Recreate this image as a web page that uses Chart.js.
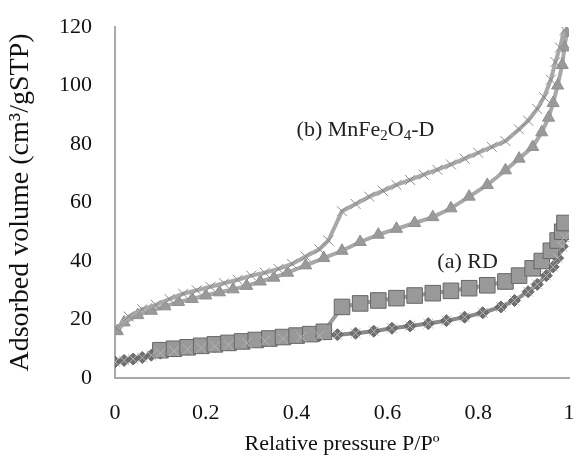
<!DOCTYPE html>
<html>
<head>
<meta charset="utf-8">
<script src="https://cdn.jsdelivr.net/npm/chart.js@4"></script>
<style>
  html, body { margin: 0; padding: 0; background: #fff; }
  #wrap { width: 581px; height: 461px; }
</style>
</head>
<body>
<div id="wrap"><canvas id="iso"></canvas></div>
<script>
// MnFe2O4-D, desorption branch (x markers)
var mnDesX = [0.005, 0.03, 0.06, 0.09, 0.12, 0.15, 0.18, 0.21, 0.24, 0.27, 0.30, 0.33, 0.36, 0.39, 0.42, 0.45, 0.47, 0.50, 0.53, 0.56, 0.59, 0.62, 0.65, 0.68, 0.71, 0.74, 0.77, 0.80, 0.83, 0.86, 0.89, 0.91, 0.93, 0.945, 0.96, 0.97, 0.98, 0.99];
var mnDesY = [17, 21, 23.5, 25, 27, 28.8, 30, 31.2, 32.4, 33.6, 35, 36, 37.3, 39, 41.5, 44, 47, 57, 59.5, 62, 64, 66, 67.7, 69.5, 71.2, 73, 75, 77, 79, 81, 85, 88, 92, 96, 102, 108, 113, 119];
// MnFe2O4-D, adsorption branch (triangles)
var mnAdsX = [0.005, 0.02, 0.05, 0.08, 0.11, 0.14, 0.17, 0.20, 0.23, 0.26, 0.29, 0.32, 0.35, 0.38, 0.42, 0.46, 0.50, 0.54, 0.58, 0.62, 0.66, 0.70, 0.74, 0.78, 0.82, 0.86, 0.89, 0.92, 0.94, 0.955, 0.965, 0.975, 0.985, 0.99, 0.995];
var mnAdsY = [16, 19, 21.5, 23, 24.5, 26, 27, 28.2, 29.3, 30.3, 31.5, 33, 34.3, 36, 38.5, 41, 43.5, 46.5, 49, 51, 53, 55, 58, 62, 66, 71, 75, 79, 84, 89, 94, 100, 107, 113, 118];
// RD, desorption branch (squares)
var rdDesX = [0.10, 0.13, 0.16, 0.19, 0.22, 0.25, 0.28, 0.31, 0.34, 0.37, 0.40, 0.43, 0.46, 0.50, 0.54, 0.58, 0.62, 0.66, 0.70, 0.74, 0.78, 0.82, 0.86, 0.89, 0.92, 0.94, 0.96, 0.975, 0.985, 0.99];
var rdDesY = [9.5, 10, 10.5, 11, 11.5, 12, 12.5, 13, 13.5, 14, 14.5, 15, 15.8, 24.3, 25.5, 26.5, 27.3, 28.2, 29, 29.8, 30.7, 31.7, 33, 35, 37.5, 40, 43.5, 47, 50, 53];
// RD, adsorption branch (diamonds)
var rdAdsX = [0.0, 0.02, 0.04, 0.06, 0.08, 0.10, 0.13, 0.16, 0.19, 0.22, 0.25, 0.29, 0.33, 0.37, 0.41, 0.45, 0.49, 0.53, 0.57, 0.61, 0.65, 0.69, 0.73, 0.77, 0.81, 0.85, 0.88, 0.91, 0.93, 0.95, 0.965, 0.975, 0.985, 0.99];
var rdAdsY = [5.5, 6, 6.5, 7, 7.8, 8.5, 9.2, 9.8, 10.3, 10.8, 11.3, 12, 12.7, 13.5, 14, 14.4, 14.8, 15.3, 16, 17, 17.8, 18.6, 19.6, 20.8, 22.3, 24.3, 26.5, 29.5, 32, 35, 38, 41, 45, 48];

var xTicks = [0, 0.2, 0.4, 0.6, 0.8, 1];
var yTicks = [0, 20, 40, 60, 80, 100, 120];

function pts(xs, ys) {
    return xs.map(function (x, i) { return { x: x, y: ys[i] }; });
}

var serif = 'Liberation Serif, Times New Roman, serif';

// the two curve labels, placed in data units
var labelPlugin = {
    id: 'curveLabels',
    afterDatasetsDraw: function (chart) {
        var ctx = chart.ctx;
        var sx = chart.scales.x, sy = chart.scales.y;
        ctx.save();
        ctx.fillStyle = '#222';
        ctx.textBaseline = 'middle';
        var parts = [['(b) MnFe', 0], ['2', 1], ['O', 0], ['4', 1], ['-D', 0]];
        var x = sx.getPixelForValue(0.40), y = sy.getPixelForValue(84.8);
        parts.forEach(function (p) {
            ctx.font = (p[1] ? '15px ' : '22px ') + serif;
            ctx.fillText(p[0], x, p[1] ? y + 6 : y);
            x += ctx.measureText(p[0]).width;
        });
        ctx.font = '22px ' + serif;
        ctx.fillText('(a) RD', sx.getPixelForValue(0.71), sy.getPixelForValue(39.7));
        ctx.restore();
    }
};

var isoChart = new Chart(document.getElementById('iso'), {
    type: 'scatter',
    data: {
        datasets: [{
            label: 'MnFe2O4-D desorption',
            data: pts(mnDesX, mnDesY),
            showLine: true,
            borderColor: '#a8a8a8',
            borderWidth: 4,
            pointStyle: 'crossRot',
            pointRadius: 7,
            pointBorderWidth: 1,
            pointBorderColor: '#8a8a8a'
        }, {
            label: 'MnFe2O4-D adsorption',
            data: pts(mnAdsX, mnAdsY),
            showLine: true,
            borderColor: '#a8a8a8',
            borderWidth: 4,
            pointStyle: 'triangle',
            pointRadius: 7,
            pointBackgroundColor: '#9a9a9a',
            pointBorderColor: '#909090',
            pointBorderWidth: 1
        }, {
            label: 'RD adsorption x',
            data: pts(rdAdsX, rdAdsY),
            showLine: false,
            pointStyle: 'crossRot',
            pointRadius: 7,
            pointBorderWidth: 1,
            pointBorderColor: '#b5b5b5'
        }, {
            label: 'RD desorption',
            data: pts(rdDesX, rdDesY),
            showLine: true,
            borderColor: '#9c9c9c',
            borderWidth: 4,
            pointStyle: 'rect',
            pointRadius: 11,
            pointBackgroundColor: '#999',
            pointBorderColor: '#666',
            pointBorderWidth: 1
        }, {
            label: 'RD adsorption',
            data: pts(rdAdsX, rdAdsY),
            showLine: true,
            borderColor: '#8a8a8a',
            borderWidth: 4,
            pointStyle: 'rectRot',
            pointRadius: 6,
            pointBackgroundColor: '#707070',
            pointBorderColor: '#666',
            pointBorderWidth: 1
        }]
    },
    options: {
        responsive: true,
        maintainAspectRatio: false,
        animation: false,
        layout: { padding: { top: 27, right: 7, left: 0, bottom: 0 } },
        plugins: { legend: { display: false }, tooltip: { enabled: false } },
        scales: {
            x: {
                type: 'linear',
                min: 0,
                max: 1,
                afterBuildTicks: function (s) { s.ticks = xTicks.map(function (v) { return { value: v }; }); },
                afterFit: function (s) { s.height = 83; s.paddingLeft = 0; s.paddingRight = 0; },
                grid: { display: false, drawTicks: false },
                border: { color: '#aaa', width: 2 },
                ticks: {
                    color: '#111', font: { family: serif, size: 22 }, padding: 22, maxRotation: 0,
                    callback: function (v) { return String(v); }
                },
                title: { display: true, text: 'Relative pressure P/P\u00ba', color: '#111', font: { family: serif, size: 22 }, padding: { top: 4 } }
            },
            y: {
                min: 0,
                max: 120,
                afterBuildTicks: function (s) { s.ticks = yTicks.map(function (v) { return { value: v }; }); },
                afterFit: function (s) { s.width = 115; s.paddingTop = 0; s.paddingBottom = 0; },
                grid: { display: false, drawTicks: false },
                border: { color: '#aaa', width: 2 },
                ticks: { color: '#111', font: { family: serif, size: 22 }, padding: 23 },
                title: { display: true, text: 'Adsorbed volume (cm\u00b3/gSTP)', color: '#111', font: { family: serif, size: 28 }, padding: { bottom: 0 } }
            }
        }
    },
    plugins: [labelPlugin]
});
</script>
</body>
</html>
